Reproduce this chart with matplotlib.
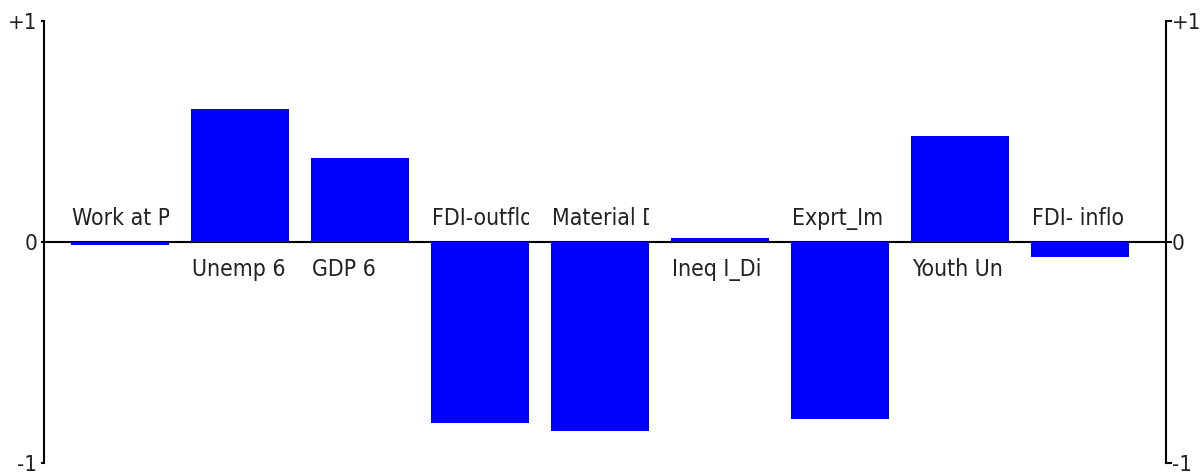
import matplotlib.pyplot as plt
from matplotlib.transforms import Bbox, TransformedBbox

labels = ['Work at P', 'Unemp 6', 'GDP 6', 'FDI-outflo', 'Material D',
          'Ineq I_Di', 'Exprt_Im', 'Youth Un', 'FDI- inflo']
values = [-0.015, 0.60, 0.38, -0.82, -0.855, 0.02, -0.80, 0.48, -0.07]
ytick_vals = [-1, 0, 1]
ytick_labels = ['-1', '0', '+1']

plt.rcParams['font.family'] = ['DejaVu Sans']
plt.rcParams['font.stretch'] = 'condensed'

fig = plt.figure(figsize=(12.02, 4.73), dpi=100)
ax = fig.add_axes([43.5 / 1202, 1 - 463 / 473, (1165.5 - 43.5) / 1202, 442 / 473])

width = 0.82
x = list(range(len(values)))
ax.bar(x, values, width=width, color='#0000ff', zorder=3)
ax.axhline(0, color='black', lw=1.5, zorder=2)

# labels: above zero for negative bars, below for positive, clipped to bar width
for i, (lab, v) in enumerate(zip(labels, values)):
    x0 = i - width / 2
    y = 0.077 if v < 0 else -0.154
    t = ax.text(x0 + 0.01, y, lab, ha='left', va='baseline', fontsize=16.5,
                color='#222222', zorder=4)
    t.set_clip_box(TransformedBbox(Bbox([[x0, -2], [i + width / 2, 2]]), ax.transData))
    t.set_clip_on(True)

ax.set_xlim(-0.6375, 8.7125)
ax.set_ylim(-1, 1)
ax.set_xticks([])
ax.set_yticks(ytick_vals)
ax.set_yticklabels(ytick_labels, fontsize=16)
for s in ['top', 'bottom']:
    ax.spines[s].set_visible(False)
for s in ['left', 'right']:
    ax.spines[s].set_linewidth(1.5)
ax.tick_params(axis='y', left=True, right=True, labelleft=True, labelright=True,
               width=1.5, color='black', labelcolor='#222222')
ax.tick_params(axis='y', which='major', length=2.5, pad=2)
for tk in ax.yaxis.get_major_ticks():
    tk.tick2line.set_markersize(4.5)

plt.savefig('out.png', dpi=100)
